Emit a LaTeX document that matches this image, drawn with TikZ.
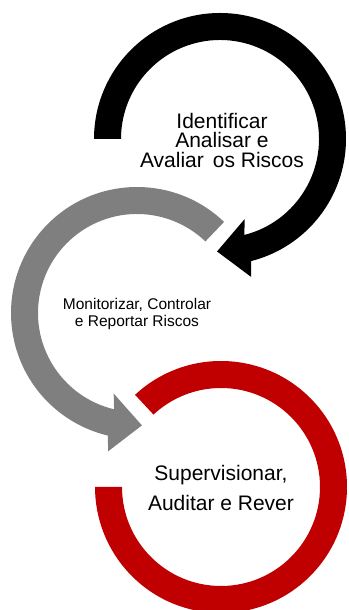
\documentclass[tikz,border=0pt]{standalone}
\usepackage{fontspec}
\setmainfont{Liberation Sans}
\usetikzlibrary{calc}
\definecolor{ringgray}{HTML}{7F7F7F}
\definecolor{ringred}{HTML}{C00000}
\tikzset{
  bigtext/.style={align=center, inner sep=0pt, font=\fontsize{21}{19.5}\selectfont},
  smalltext/.style={align=center, inner sep=0pt, font=\fontsize{15.5}{17.5}\selectfont},
  redtext/.style={align=center, inner sep=0pt, font=\fontsize{21}{30}\selectfont},
}
\begin{document}
\begin{tikzpicture}[x=1pt,y=1pt]
\useasboundingbox (0,0) rectangle (348,610);
% centres
\coordinate (bc) at (220,471);
\coordinate (gc) at (137,297);
\coordinate (rc) at (221,123);
% black arrow head geometry
\coordinate (bm) at ($(bc)+(-75.7:112.5)$);
\coordinate (bt) at ($(bc)+(-91.5:112.5)$);
\coordinate (bo) at ($(bm)!29pt!90:(bt)$);
\coordinate (bi) at ($(bm)!29pt!-90:(bt)$);
% gray arrow head geometry
\coordinate (gm) at ($(gc)+(256.6:112.5)$);
\coordinate (gt) at ($(gc)+(272.5:112.5)$);
\coordinate (go) at ($(gm)!29pt!-90:(gt)$);
\coordinate (gi) at ($(gm)!29pt!90:(gt)$);
% red ring
\fill[ringred] ($(rc)+(133:126)$) arc[start angle=133, end angle=-180, radius=126]
  -- ($(rc)+(180:99)$) arc[start angle=-180, end angle=133, radius=99] -- cycle;
% gray arrow
\fill[ringgray] ($(gc)+(46.3:126)$) arc[start angle=46.3, end angle=256.6, radius=126]
  -- (go) -- (gt) -- (gi)
  -- ($(gc)+(256.6:99)$) arc[start angle=256.6, end angle=46.3, radius=99] -- cycle;
% black arrow
\fill[black] ($(bc)+(180:126)$) arc[start angle=180, end angle=-75.7, radius=126]
  -- (bo) -- (bt) -- (bi)
  -- ($(bc)+(-75.7:99)$) arc[start angle=-75.7, end angle=180, radius=99] -- cycle;
% texts
\node[bigtext] (t1) at (222,469.5) {Identificar\\Analisar e\\Avaliar\hspace{0.15em} os Riscos};
\node[smalltext] (t2) at (137,296) {Monitorizar, Controlar\\e Reportar Riscos};
\node[redtext] (t3) at (221,122) {Supervisionar,\\Auditar e Rever};
\end{tikzpicture}
\end{document}
